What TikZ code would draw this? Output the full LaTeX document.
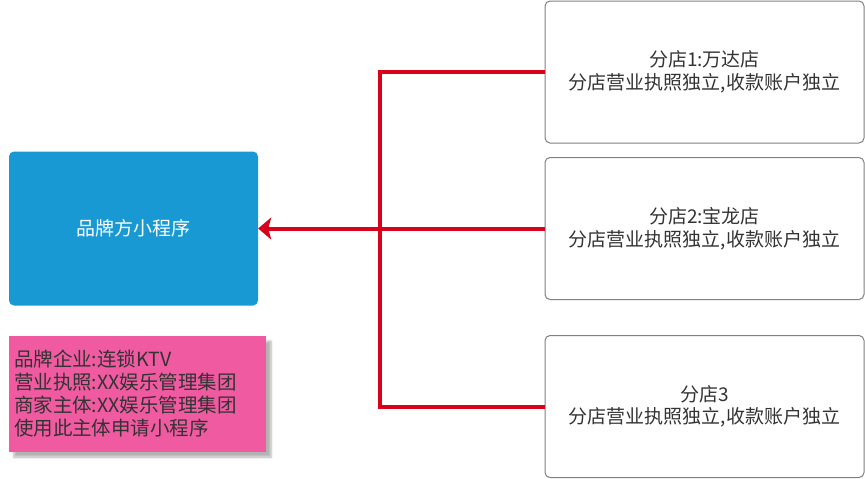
\documentclass[tikz,border=0pt]{standalone}
\usepackage{fontspec}
\setmainfont{Noto Sans CJK SC}
\usepackage{tikz}
\usetikzlibrary{arrows.meta,shadows.blur}
\definecolor{brandblue}{HTML}{1899D4}
\definecolor{notepink}{HTML}{EF5AA1}
\definecolor{linkred}{HTML}{D9001B}
\definecolor{textgray}{HTML}{333333}

\begin{document}
\begin{tikzpicture}[x=1pt, y=-1pt, font=\fontsize{19}{22.5}\selectfont,
    brand/.style = {fill=brandblue, rounded corners=5pt, text=white, minimum width=249pt, minimum height=154pt},
    shop/.style = {draw=gray, line width=1pt, rounded corners=5pt, text=textgray, align=center, minimum width=319pt, minimum height=142pt},
    note/.style = {fill=notepink, text=textgray, align=left, text width=247pt, inner xsep=5pt, minimum height=116pt,
        blur shadow={shadow xshift=5pt, shadow yshift=-5pt, shadow opacity=30, shadow blur steps=6}},
    link/.style = {draw=linkred, line width=4pt}]
    \useasboundingbox (0,0) rectangle (865,479);
    \node[brand] (brand) at (133.5,228.5) {品牌方小程序};
    \node[note, font=\fontsize{19.5}{23}\selectfont] (note) at (137.5,394) {品牌企业:连锁KTV\\营业执照:XX娱乐管理集团\\商家主体:XX娱乐管理集团\\使用此主体申请小程序};
    \node[shop] (shop1) at (704.5,72) {分店1:万达店\\分店营业执照独立,收款账户独立};
    \node[shop] (shop2) at (704.5,228.5) {分店2:宝龙店\\分店营业执照独立,收款账户独立};
    \node[shop] (shop3) at (704.5,406.5) {分店3\\分店营业执照独立,收款账户独立};
    \coordinate (trunk) at (380,228.5);
    \draw[link] (shop1.west) -- (shop1.west -| trunk) -- (shop3.west -| trunk) -- (shop3.west);
    \draw[link, -{Stealth[length=13pt, width=22pt, inset=3pt]}] (shop2.west) -- (brand.east);
\end{tikzpicture}
\end{document}
